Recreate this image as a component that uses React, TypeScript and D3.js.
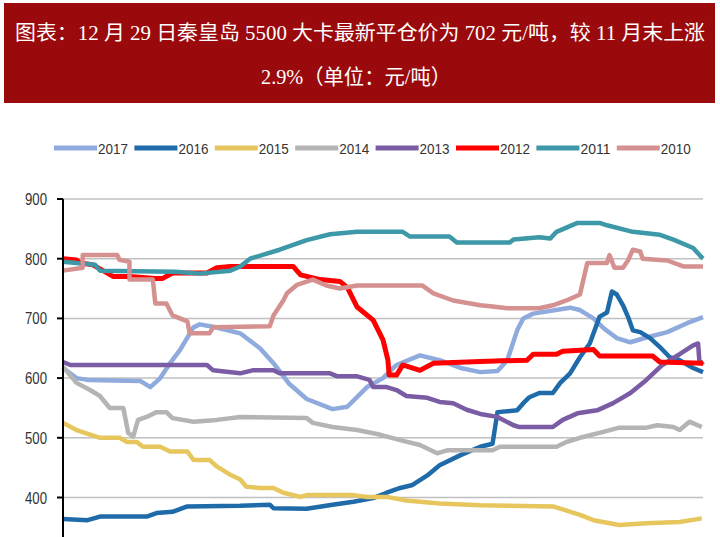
import React from 'react';
import * as d3 from 'd3';

const title1 = '图表：12 月 29 日秦皇岛 5500 大卡最新平仓价为 702 元/吨，较 11 月末上涨';
const title2 = '2.9%（单位：元/吨）';
const yTicks = [400, 500, 600, 700, 800, 900];
const seriesNames = ['2017', '2016', '2015', '2014', '2013', '2012', '2011', '2010'];
const seriesColors = ['#8FAADC', '#1F6BAA', '#E8C65E', '#B4B4B4', '#7A5CA5', '#FF0000', '#3D98A8', '#D4918F'];

type P = [number, number];

const s2017: P[] = [[0,617],[1.1,600],[2.0,597],[6.3,595],[7.1,585],[7.9,600],[8.7,625],[9.5,647],[10.6,685],[11.1,690],[12.2,686],[14.4,675],[16.0,650],[17.1,625],[18.4,590],[19.8,565],[21.9,548],[23.1,552],[24.7,585],[26.0,600],[27.1,622],[29.0,638],[30.6,630],[32.3,617],[33.9,610],[35.3,612],[36.1,630],[36.9,680],[37.4,700],[38.2,708],[41.2,718],[42.0,714],[43.1,700],[43.9,684],[45.0,667],[46.1,660],[47.4,668],[49.1,677],[50.7,692],[52,702]];
const s2016: P[] = [[0,364],[2.0,362],[3.0,368],[6.8,368],[7.6,374],[8.9,376],[10.1,385],[14.4,386],[16.8,388],[17.1,382],[19.8,381],[21.9,388],[23.6,393],[25.2,399],[26.3,408],[27.4,416],[28.4,421],[29.6,437],[30.6,454],[32.3,471],[33.9,485],[34.9,490],[35.3,543],[36.9,546],[37.4,558],[37.9,568],[38.7,575],[39.8,575],[40.4,592],[41.2,608],[42.0,635],[42.8,658],[43.6,703],[44.2,710],[44.6,745],[45.0,740],[45.5,722],[45.9,703],[46.3,680],[46.9,677],[47.7,667],[48.5,652],[49.3,635],[50.1,630],[51.2,617],[52,610]];
const s2015: P[] = [[0,525],[1.1,513],[3.0,500],[4.6,500],[5.2,493],[6.0,493],[6.5,485],[7.9,485],[8.7,477],[10.1,477],[10.6,463],[11.9,463],[12.5,452],[13.6,438],[14.4,430],[14.9,418],[16.0,416],[17.1,416],[17.9,408],[19.3,401],[19.8,404],[23.6,404],[24.7,401],[26.3,401],[27.9,395],[30.6,390],[33.9,387],[39.8,385],[40.6,380],[42.0,371],[43.1,362],[45.2,354],[47.4,357],[50.1,359],[51.9,365]];
const s2014: P[] = [[0,619],[1.1,592],[2.2,580],[3.0,570],[3.8,550],[4.9,550],[5.3,508],[5.7,502],[6.1,530],[6.8,535],[7.6,543],[8.4,543],[8.9,533],[10.6,527],[12.5,530],[14.4,535],[19.8,533],[20.3,525],[21.9,518],[23.9,513],[25.8,505],[27.4,496],[29.0,488],[30.4,474],[31.2,479],[34.9,479],[35.5,485],[40.1,485],[40.9,493],[42.0,500],[43.9,510],[45.2,517],[47.4,517],[48.3,521],[49.6,518],[50.1,513],[50.9,527],[51.9,518]];
const s2013: P[] = [[0,627],[0.6,622],[11.7,622],[12.2,613],[14.4,608],[15.4,613],[17.1,613],[17.6,608],[21.7,608],[22.3,603],[23.9,603],[24.9,597],[25.2,585],[26.3,585],[27.1,580],[27.9,570],[29.6,567],[30.6,560],[31.7,558],[32.8,547],[33.9,540],[35.3,535],[36.6,521],[37.1,518],[39.8,518],[40.6,530],[41.8,541],[43.4,546],[44.7,558],[46.1,575],[47.4,597],[48.7,622],[50.1,640],[51.2,655],[51.6,658],[51.7,630],[52,622]];
const s2012: P[] = [[0,800],[1.1,798],[1.4,793],[2.4,790],[4.1,770],[5.4,770],[7.5,767],[8.1,767],[8.9,776],[11.7,776],[12.5,785],[13.6,787],[18.7,787],[19.3,773],[20.9,765],[22.5,762],[23.1,752],[23.9,719],[25.2,697],[26.0,664],[26.4,630],[26.5,605],[27.1,605],[27.6,622],[29.0,613],[30.1,625],[33.9,628],[37.7,630],[38.2,640],[40.1,640],[40.6,645],[43.1,648],[43.6,637],[47.9,637],[48.5,627],[52,625]];
const s2011: P[] = [[0,795],[2.6,790],[3.0,780],[9.1,778],[11.1,775],[13.6,780],[14.4,787],[15.2,800],[17.6,815],[19.8,831],[21.7,841],[23.9,845],[27.6,845],[28.2,837],[31.4,837],[32.0,827],[36.3,827],[36.6,832],[38.7,836],[39.6,834],[40.1,845],[41.8,860],[43.6,860],[44.2,856],[46.3,845],[48.5,840],[49.6,832],[51.2,818],[52,800]];
const s2010: P[] = [[0,780],[1.6,785],[1.6,806],[4.4,806],[4.6,798],[5.4,795],[5.4,765],[7.3,765],[7.5,725],[8.4,725],[8.9,705],[10.1,695],[10.3,675],[11.9,675],[12.2,685],[16.8,687],[17.1,705],[17.9,730],[18.2,742],[19.0,756],[20.3,765],[21.4,755],[22.5,750],[23.9,755],[29.2,755],[30.1,742],[31.7,730],[33.9,722],[34.9,720],[36.1,717],[38.7,717],[39.8,722],[40.9,730],[42.0,740],[42.6,793],[44.2,793],[44.4,806],[44.8,785],[45.5,785],[45.9,797],[46.3,815],[46.9,812],[47.1,800],[49.1,797],[50.4,787],[52,787]];

const seriesData = [s2017, s2016, s2015, s2014, s2013, s2012, s2011, s2010];

export default function App() {
  const W = 720, H = 537;
  const x = d3.scaleLinear().domain([0, 52]).range([63, 703]);
  const y = d3.scaleLinear().domain([400, 900]).range([497.5, 199]);
  const line = d3.line<P>().x(d => x(d[0])).y(d => y(d[1])).curve(d3.curveLinear);
  const legendX = d3.scaleLinear().domain([0, 1]).range([54, 134.4]);

  return (
    <svg width={W} height={H} style={{ position: 'absolute', left: 0, top: 0, background: '#fff' }}>
      <rect x={4} y={3} width={711} height={100} fill="#9A0A0C" />
      <text x={360} y={40} fill="#fff" fontSize={20} textAnchor="middle"
        fontFamily="'Liberation Serif','Noto Sans CJK SC',serif" textLength={690} lengthAdjust="spacingAndGlyphs">{title1}</text>
      <text x={356} y={84} fill="#fff" fontSize={21} textAnchor="middle"
        fontFamily="'Liberation Serif','Noto Sans CJK SC',serif" textLength={190} lengthAdjust="spacingAndGlyphs">{title2}</text>

      {seriesNames.map((n, i) => (
        <g key={n}>
          <line x1={legendX(i)} x2={legendX(i) + 43} y1={148} y2={148} stroke={seriesColors[i]} strokeWidth={5} />
          <text x={legendX(i) + 44} y={154} fontSize={15} fill="#333"
            fontFamily="'Liberation Sans',Arial,sans-serif" textLength={30} lengthAdjust="spacingAndGlyphs">{n}</text>
        </g>
      ))}

      {yTicks.map(t => (
        <g key={t}>
          <line x1={63} x2={703} y1={y(t)} y2={y(t)} stroke="#C0C0C0" strokeWidth={1.5} />
          <line x1={57} x2={63} y1={y(t)} y2={y(t)} stroke="#000" strokeWidth={2} />
          <text x={47} y={y(t) + 6} textAnchor="end" fontSize={16} fill="#333"
            fontFamily="'Liberation Sans',Arial,sans-serif" textLength={22} lengthAdjust="spacingAndGlyphs">{t}</text>
        </g>
      ))}

      <g>
        {seriesData.map((s, i) => (
          <path key={seriesNames[i]} d={line(s) || ''} fill="none" stroke={seriesColors[i]}
            strokeWidth={seriesNames[i] === '2012' ? 5 : 4.5} strokeLinejoin="round" />
        ))}
      </g>
      <line x1={63} x2={63} y1={199} y2={H} stroke="#000" strokeWidth={2} />
    </svg>
  );
}
